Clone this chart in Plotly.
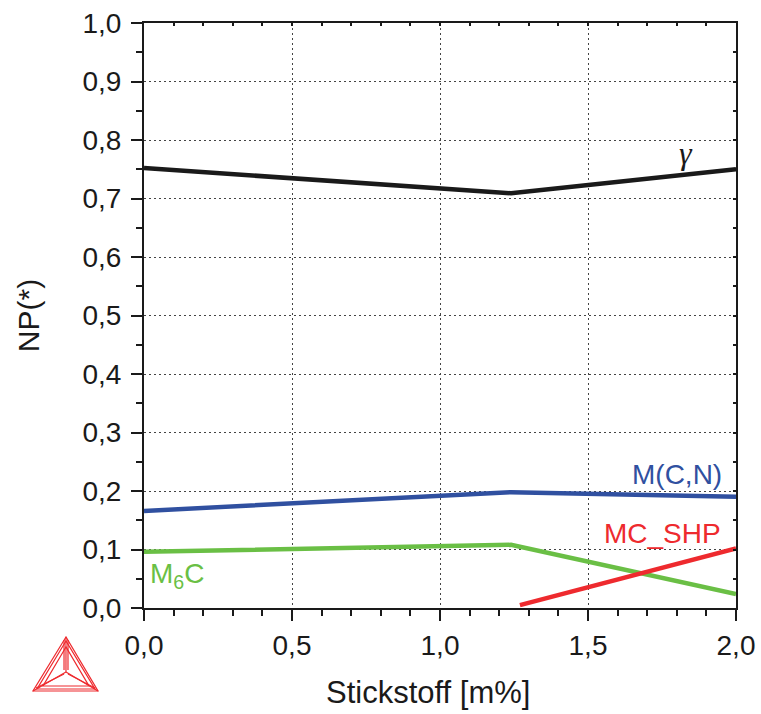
import plotly.graph_objects as go

# Nitrogen content [m%] and phase fractions NP(*)
n_gamma = [0.0, 1.24, 2.0]
np_gamma = [0.752, 0.709, 0.750]

n_mcn = [0.0, 1.24, 2.0]
np_mcn = [0.166, 0.198, 0.190]

n_m6c = [0.0, 1.24, 2.0]
np_m6c = [0.096, 0.108, 0.024]

n_mcshp = [1.27, 2.0]
np_mcshp = [0.005, 0.102]

x_ticks = [0.0, 0.5, 1.0, 1.5, 2.0]
y_ticks = [0.0, 0.1, 0.2, 0.3, 0.4, 0.5, 0.6, 0.7, 0.8, 0.9, 1.0]

BLACK = "#1a1a1a"
BLUE = "#3050a0"
GREEN = "#6abf45"
RED = "#ee2a2e"
FONT = "Liberation Sans, Arial, sans-serif"

fig = go.Figure()
fig.add_trace(go.Scatter(x=n_gamma, y=np_gamma, mode="lines",
                         line=dict(color=BLACK, width=4.5), showlegend=False))
fig.add_trace(go.Scatter(x=n_mcn, y=np_mcn, mode="lines",
                         line=dict(color=BLUE, width=4.5), showlegend=False))
fig.add_trace(go.Scatter(x=n_m6c, y=np_m6c, mode="lines",
                         line=dict(color=GREEN, width=4.5), showlegend=False))
fig.add_trace(go.Scatter(x=n_mcshp, y=np_mcshp, mode="lines",
                         line=dict(color=RED, width=4.5), showlegend=False))

# phase labels
labels = [
    (1.83, 0.778, "<i>γ</i>", BLACK, "Liberation Serif, serif", 32),
    (1.80, 0.228, "M(C,N)", BLUE, FONT, 28),
    (1.75, 0.127, "MC_SHP", RED, FONT, 28),
    (0.11, 0.055, "M<sub>6</sub>C", GREEN, FONT, 28),
]
for x, y, t, c, f, s in labels:
    fig.add_annotation(x=x, y=y, text=t, showarrow=False,
                       font=dict(family=f, size=s, color=c))

# x-axis title, set slightly left of the plot centre
fig.add_annotation(x=0.48, y=-0.145, xref="paper", yref="paper",
                   text="Stickstoff [m%]", showarrow=False,
                   xanchor="center", yanchor="middle",
                   font=dict(family=FONT, size=31, color=BLACK))

axis_common = dict(
    showline=True, linecolor=BLACK, linewidth=2,
    ticks="outside", ticklen=11, tickwidth=2, tickcolor=BLACK,
    showgrid=True, gridcolor="#444444", gridwidth=1, griddash="2px,3px",
    zeroline=False, automargin=False,
    tickfont=dict(family=FONT, size=28, color=BLACK),
)

fig.update_layout(
    width=761, height=714,
    margin=dict(l=144, r=25, t=23, b=106),
    paper_bgcolor="white", plot_bgcolor="white",
    separators=",.",
    xaxis=dict(range=[0, 2.0], tickvals=x_ticks, tickformat=".1f",
               minor=dict(dtick=0.1, ticks="outside", ticklen=6,
                          tickwidth=2, tickcolor=BLACK, showgrid=False),
               **axis_common),
    yaxis=dict(range=[0, 1.0], tickvals=y_ticks, tickformat=".1f",
               ticklabelstandoff=4,
               minor=dict(dtick=0.05, ticks="outside", ticklen=6,
                          tickwidth=2, tickcolor=BLACK, showgrid=False),
               title=dict(text="NP(*)", standoff=34,
                          font=dict(family=FONT, size=30, color=BLACK)),
               **axis_common),
    # frame on top and right with small inward ticks
    xaxis2=dict(overlaying="x", side="top", range=[0, 2.0], dtick=0.1,
                showline=True, linecolor=BLACK, linewidth=2,
                ticks="inside", ticklen=3, tickwidth=1.5, tickcolor=BLACK,
                showticklabels=False, showgrid=False, zeroline=False,
                automargin=False),
    yaxis2=dict(overlaying="y", side="right", range=[0, 1.0], dtick=0.05,
                showline=True, linecolor=BLACK, linewidth=2,
                ticks="inside", ticklen=3, tickwidth=1.5, tickcolor=BLACK,
                showticklabels=False, showgrid=False, zeroline=False,
                automargin=False),
)
# dummy trace to activate the mirror axes
fig.add_trace(go.Scatter(x=[None], y=[None], xaxis="x2", yaxis="y2",
                         showlegend=False, hoverinfo="skip"))

# Thermo-Calc style logo (triangle), placed in pixel space below the y axis
L, T, W, H = 144, 23, 592, 585


def px(x, y):
    return (x - L) / W, (T + H - y) / H


def path(points, close=True):
    s = ""
    for i, (x, y) in enumerate(points):
        xp, yp = px(x, y)
        s += ("M" if i == 0 else "L") + f"{xp:.4f},{yp:.4f} "
    return s + ("Z" if close else "")


logo_style = dict(type="path", xref="paper", yref="paper",
                  line=dict(color=RED, width=1.2))
apex, bl, br, ctr = (66, 637), (33, 691), (98, 691), (66, 672)
fig.add_shape(path=path([apex, bl, br]), **logo_style)
fig.add_shape(path=path([(66, 641), (37, 689), (95, 689)]), **logo_style)
fig.add_shape(path=path([(66, 647), (43, 686), (89, 686)]), **logo_style)
for v in (apex, bl, br):
    fig.add_shape(path=path([ctr, v], close=False), **logo_style)
fig.add_shape(path=path([(64, 640), (64, 670)], close=False), **logo_style)
fig.add_shape(path=path([(68, 640), (68, 670)], close=False), **logo_style)
fig.add_shape(path=path([(36, 688), (64, 674)], close=False), **logo_style)
fig.add_shape(path=path([(95, 688), (68, 674)], close=False), **logo_style)

fig.write_html("out.html")
